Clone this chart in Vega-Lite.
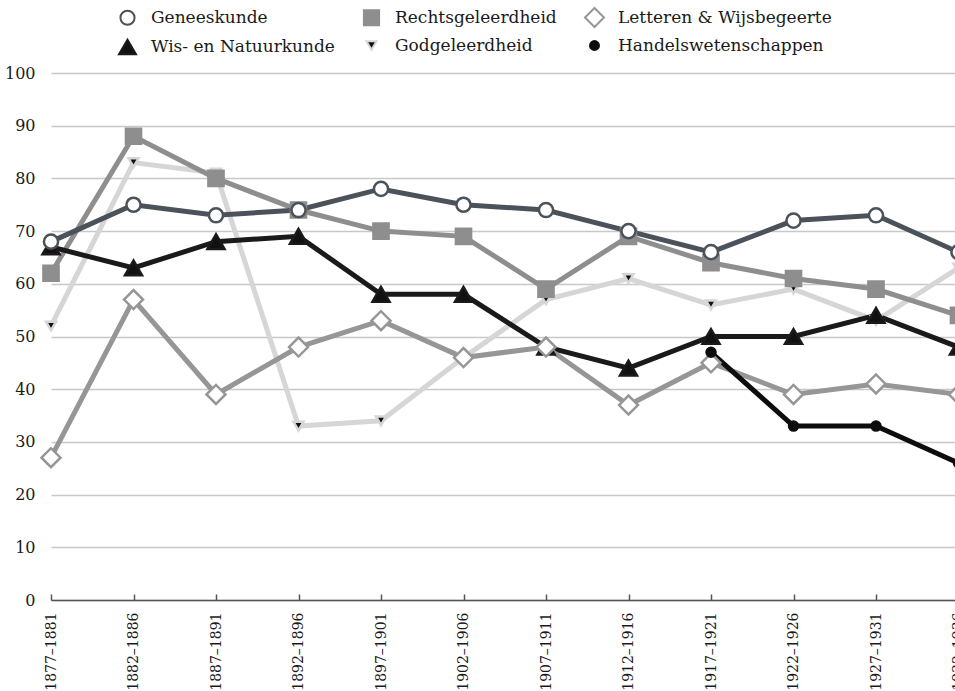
{
  "$schema": "https://vega.github.io/schema/vega-lite/v6.json",
  "width": 904,
  "height": 527,
  "autosize": {"type": "none"},
  "padding": {"left": 51, "top": 73, "right": 0, "bottom": 91},
  "background": "white",
  "data": {
    "values": [
      {"period": "1877–1881", "series": "Godgeleerdheid", "value": 52},
      {"period": "1882–1886", "series": "Godgeleerdheid", "value": 83},
      {"period": "1887–1891", "series": "Godgeleerdheid", "value": 81},
      {"period": "1892–1896", "series": "Godgeleerdheid", "value": 33},
      {"period": "1897–1901", "series": "Godgeleerdheid", "value": 34},
      {"period": "1902–1906", "series": "Godgeleerdheid", "value": 46},
      {"period": "1907–1911", "series": "Godgeleerdheid", "value": 57},
      {"period": "1912–1916", "series": "Godgeleerdheid", "value": 61},
      {"period": "1917–1921", "series": "Godgeleerdheid", "value": 56},
      {"period": "1922–1926", "series": "Godgeleerdheid", "value": 59},
      {"period": "1927–1931", "series": "Godgeleerdheid", "value": 53},
      {"period": "1932–1936", "series": "Godgeleerdheid", "value": 63},
      {"period": "1877–1881", "series": "Rechtsgeleerdheid", "value": 62},
      {"period": "1882–1886", "series": "Rechtsgeleerdheid", "value": 88},
      {"period": "1887–1891", "series": "Rechtsgeleerdheid", "value": 80},
      {"period": "1892–1896", "series": "Rechtsgeleerdheid", "value": 74},
      {"period": "1897–1901", "series": "Rechtsgeleerdheid", "value": 70},
      {"period": "1902–1906", "series": "Rechtsgeleerdheid", "value": 69},
      {"period": "1907–1911", "series": "Rechtsgeleerdheid", "value": 59},
      {"period": "1912–1916", "series": "Rechtsgeleerdheid", "value": 69},
      {"period": "1917–1921", "series": "Rechtsgeleerdheid", "value": 64},
      {"period": "1922–1926", "series": "Rechtsgeleerdheid", "value": 61},
      {"period": "1927–1931", "series": "Rechtsgeleerdheid", "value": 59},
      {"period": "1932–1936", "series": "Rechtsgeleerdheid", "value": 54},
      {"period": "1877–1881", "series": "Wis- en Natuurkunde", "value": 67},
      {"period": "1882–1886", "series": "Wis- en Natuurkunde", "value": 63},
      {"period": "1887–1891", "series": "Wis- en Natuurkunde", "value": 68},
      {"period": "1892–1896", "series": "Wis- en Natuurkunde", "value": 69},
      {"period": "1897–1901", "series": "Wis- en Natuurkunde", "value": 58},
      {"period": "1902–1906", "series": "Wis- en Natuurkunde", "value": 58},
      {"period": "1907–1911", "series": "Wis- en Natuurkunde", "value": 48},
      {"period": "1912–1916", "series": "Wis- en Natuurkunde", "value": 44},
      {"period": "1917–1921", "series": "Wis- en Natuurkunde", "value": 50},
      {"period": "1922–1926", "series": "Wis- en Natuurkunde", "value": 50},
      {"period": "1927–1931", "series": "Wis- en Natuurkunde", "value": 54},
      {"period": "1932–1936", "series": "Wis- en Natuurkunde", "value": 48},
      {"period": "1877–1881", "series": "Letteren & Wijsbegeerte", "value": 27},
      {"period": "1882–1886", "series": "Letteren & Wijsbegeerte", "value": 57},
      {"period": "1887–1891", "series": "Letteren & Wijsbegeerte", "value": 39},
      {"period": "1892–1896", "series": "Letteren & Wijsbegeerte", "value": 48},
      {"period": "1897–1901", "series": "Letteren & Wijsbegeerte", "value": 53},
      {"period": "1902–1906", "series": "Letteren & Wijsbegeerte", "value": 46},
      {"period": "1907–1911", "series": "Letteren & Wijsbegeerte", "value": 48},
      {"period": "1912–1916", "series": "Letteren & Wijsbegeerte", "value": 37},
      {"period": "1917–1921", "series": "Letteren & Wijsbegeerte", "value": 45},
      {"period": "1922–1926", "series": "Letteren & Wijsbegeerte", "value": 39},
      {"period": "1927–1931", "series": "Letteren & Wijsbegeerte", "value": 41},
      {"period": "1932–1936", "series": "Letteren & Wijsbegeerte", "value": 39},
      {"period": "1877–1881", "series": "Geneeskunde", "value": 68},
      {"period": "1882–1886", "series": "Geneeskunde", "value": 75},
      {"period": "1887–1891", "series": "Geneeskunde", "value": 73},
      {"period": "1892–1896", "series": "Geneeskunde", "value": 74},
      {"period": "1897–1901", "series": "Geneeskunde", "value": 78},
      {"period": "1902–1906", "series": "Geneeskunde", "value": 75},
      {"period": "1907–1911", "series": "Geneeskunde", "value": 74},
      {"period": "1912–1916", "series": "Geneeskunde", "value": 70},
      {"period": "1917–1921", "series": "Geneeskunde", "value": 66},
      {"period": "1922–1926", "series": "Geneeskunde", "value": 72},
      {"period": "1927–1931", "series": "Geneeskunde", "value": 73},
      {"period": "1932–1936", "series": "Geneeskunde", "value": 66},
      {"period": "1917–1921", "series": "Handelswetenschappen", "value": 47},
      {"period": "1922–1926", "series": "Handelswetenschappen", "value": 33},
      {"period": "1927–1931", "series": "Handelswetenschappen", "value": 33},
      {"period": "1932–1936", "series": "Handelswetenschappen", "value": 26}
    ]
  },
  "encoding": {
    "x": {
      "field": "period",
      "type": "nominal",
      "title": null,
      "scale": {
        "type": "point",
        "padding": 0,
        "range": [0, 907.5],
        "domain": ["1877–1881", "1882–1886", "1887–1891", "1892–1896", "1897–1901", "1902–1906", "1907–1911", "1912–1916", "1917–1921", "1922–1926", "1927–1931", "1932–1936"]
      },
      "axis": {
        "labelAngle": -90,
        "labelAlign": "right",
        "labelBaseline": "middle",
        "labelFontSize": 14,
        "labelPadding": 18,
        "tickSize": -6,
        "tickColor": "#555555",
        "tickWidth": 1.5,
        "domainColor": "#555555",
        "domainWidth": 1.5,
        "grid": false
      }
    },
    "y": {
      "field": "value",
      "type": "quantitative",
      "title": null,
      "scale": {"domain": [0, 100], "nice": false},
      "axis": {
        "values": [0, 10, 20, 30, 40, 50, 60, 70, 80, 90, 100],
        "domain": false,
        "ticks": false,
        "labelPadding": 16,
        "labelFontSize": 16,
        "grid": true,
        "gridColor": "#c8c8c8",
        "gridWidth": 1.5
      }
    },
    "stroke": {
      "field": "series",
      "type": "nominal",
      "scale": {
        "domain": ["Geneeskunde", "Rechtsgeleerdheid", "Letteren & Wijsbegeerte", "Wis- en Natuurkunde", "Godgeleerdheid", "Handelswetenschappen"],
        "range": ["#4b525a", "#8e8e8e", "#969696", "#1a1a1a", "#d6d6d6", "#0d0d0d"]
      },
      "legend": {
        "title": null,
        "orient": "none",
        "legendX": 66,
        "legendY": -66,
        "direction": "horizontal",
        "columns": 3,
        "columnPadding": 24,
        "rowPadding": 4,
        "labelFontSize": 17,
        "labelColor": "#1a1a1a",
        "labelOffset": 13,
        "labelLimit": 400,
        "symbolStrokeWidth": 2,
        "encode": {"symbols": {"update": {"size": {"value": 70}}}}
      }
    }
  },
  "layer": [
    {
      "mark": {"type": "line", "strokeWidth": 5, "strokeJoin": "miter"}
    },
    {
      "mark": {"type": "point", "filled": true, "opacity": 1, "strokeWidth": 2.5},
      "encoding": {
        "shape": {
          "field": "series",
          "type": "nominal",
          "scale": {
            "domain": ["Geneeskunde", "Rechtsgeleerdheid", "Letteren & Wijsbegeerte", "Wis- en Natuurkunde", "Godgeleerdheid", "Handelswetenschappen"],
            "range": ["circle", "square", "diamond", "triangle-up", "triangle-down", "circle"]
          },
          "legend": {
            "title": null,
            "orient": "none",
            "legendX": 66,
            "legendY": -66,
            "direction": "horizontal",
            "columns": 3,
            "columnPadding": 24,
            "rowPadding": 4,
            "labelFontSize": 17,
            "labelColor": "#1a1a1a",
            "labelOffset": 13,
            "labelLimit": 400,
            "symbolStrokeWidth": 2,
            "encode": {"symbols": {"update": {"size": {"value": 70}}}}
          }
        },
        "fill": {
          "field": "series",
          "type": "nominal",
          "scale": {
            "domain": ["Geneeskunde", "Rechtsgeleerdheid", "Letteren & Wijsbegeerte", "Wis- en Natuurkunde", "Godgeleerdheid", "Handelswetenschappen"],
            "range": ["#ffffff", "#8e8e8e", "#ffffff", "#111111", "#111111", "#0d0d0d"]
          },
          "legend": {
            "title": null,
            "orient": "none",
            "legendX": 66,
            "legendY": -66,
            "direction": "horizontal",
            "columns": 3,
            "columnPadding": 24,
            "rowPadding": 4,
            "labelFontSize": 17,
            "labelColor": "#1a1a1a",
            "labelOffset": 13,
            "labelLimit": 400,
            "symbolStrokeWidth": 2,
            "encode": {"symbols": {"update": {"size": {"value": 70}}}}
          }
        },
        "size": {
          "field": "series",
          "type": "nominal",
          "legend": null,
          "scale": {
            "type": "ordinal",
            "domain": ["Geneeskunde", "Rechtsgeleerdheid", "Letteren & Wijsbegeerte", "Wis- en Natuurkunde", "Godgeleerdheid", "Handelswetenschappen"],
            "range": [200, 230, 360, 290, 100, 80]
          }
        }
      }
    }
  ],
  "config": {
    "font": "DejaVu Serif",
    "view": {"stroke": null},
    "axis": {"labelColor": "#1a1a1a", "labelFont": "DejaVu Serif"},
    "legend": {"labelFont": "DejaVu Serif"}
  }
}
